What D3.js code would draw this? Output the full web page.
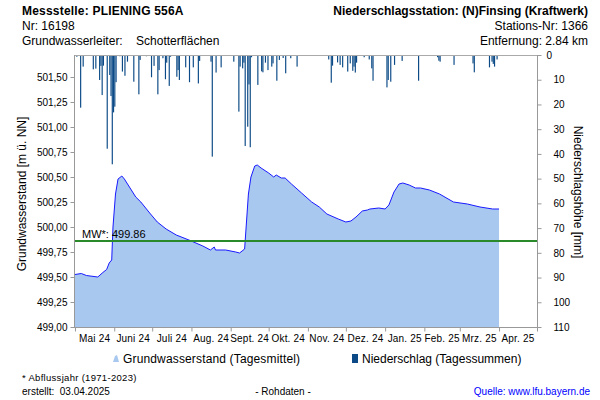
<!DOCTYPE html>
<html><head><meta charset="utf-8">
<script src="https://cdn.jsdelivr.net/npm/d3@7"></script>
<style>body{margin:0;background:#fff}svg{display:block;font-family:"Liberation Sans",Arial,sans-serif}</style>
</head><body><svg id="c" width="600" height="400"></svg>
<script>
const gwDates = ["2024-05-01","2024-05-06","2024-05-10","2024-05-19","2024-05-23","2024-05-26","2024-05-28","2024-05-30","2024-05-31","2024-06-02","2024-06-04","2024-06-07","2024-06-09","2024-06-13","2024-06-18","2024-06-22","2024-06-29","2024-07-05","2024-07-12","2024-07-20","2024-07-30","2024-08-10","2024-08-16","2024-08-19","2024-08-20","2024-08-28","2024-09-05","2024-09-08","2024-09-10","2024-09-12","2024-09-15","2024-09-17","2024-09-20","2024-09-22","2024-09-25","2024-10-01","2024-10-05","2024-10-07","2024-10-11","2024-10-14","2024-10-19","2024-10-27","2024-11-04","2024-11-10","2024-11-16","2024-11-25","2024-12-01","2024-12-05","2024-12-09","2024-12-14","2024-12-18","2024-12-20","2024-12-27","2025-01-01","2025-01-04","2025-01-08","2025-01-12","2025-01-15","2025-01-20","2025-01-25","2025-01-29","2025-02-05","2025-02-13","2025-02-24","2025-03-07","2025-03-17","2025-03-27","2025-04-01"];
const gwValues = [499.525,499.535,499.515,499.50,499.545,499.575,499.64,499.67,500.00,500.33,500.48,500.51,500.48,500.40,500.30,500.25,500.14,500.05,499.98,499.92,499.87,499.81,499.77,499.80,499.77,499.77,499.75,499.74,499.76,499.78,500.33,500.50,500.61,500.62,500.59,500.54,500.50,500.52,500.49,500.49,500.43,500.34,500.25,500.20,500.13,500.08,500.05,500.06,500.10,500.16,500.17,500.18,500.19,500.18,500.22,500.35,500.43,500.44,500.42,500.39,500.39,500.37,500.33,500.25,500.23,500.20,500.18,500.18];

const rainDates = ["2024-05-02","2024-05-05","2024-05-07","2024-05-15","2024-05-17","2024-05-20","2024-05-21","2024-05-22","2024-05-23","2024-05-26","2024-05-28","2024-05-29","2024-05-30","2024-05-31","2024-06-01","2024-06-02","2024-06-05","2024-06-07","2024-06-09","2024-06-11","2024-06-16","2024-06-20","2024-06-21","2024-06-26","2024-06-30","2024-07-02","2024-07-05","2024-07-06","2024-07-09","2024-07-11","2024-07-12","2024-07-14","2024-07-15","2024-07-20","2024-07-21","2024-07-22","2024-07-27","2024-07-30","2024-08-02","2024-08-06","2024-08-07","2024-08-16","2024-08-17","2024-08-20","2024-08-24","2024-09-03","2024-09-07","2024-09-08","2024-09-10","2024-09-11","2024-09-12","2024-09-14","2024-09-15","2024-09-16","2024-09-17","2024-09-22","2024-09-25","2024-09-26","2024-09-28","2024-09-30","2024-10-03","2024-10-04","2024-10-07","2024-10-09","2024-10-12","2024-10-14","2024-10-18","2024-10-23","2024-11-17","2024-11-19","2024-11-20","2024-11-24","2024-11-26","2024-11-28","2024-12-02","2024-12-04","2024-12-06","2024-12-07","2024-12-08","2024-12-09","2024-12-15","2024-12-19","2024-12-21","2024-12-22","2025-01-02","2025-01-03","2025-01-05","2025-01-08","2025-01-14","2025-01-27","2025-02-11","2025-02-12","2025-02-13","2025-02-24","2025-03-11","2025-03-12","2025-03-24","2025-03-26","2025-03-27","2025-03-28","2025-03-30"];
const rainValues = [0.7,21.3,4.7,5.8,5.5,10.1,4.4,16.2,4.3,37.9,8.1,16.6,44.2,23.2,20.9,11.0,0.5,6.7,8.4,2.7,10.8,15.9,2.0,0.5,9.0,4.4,15.9,6.1,1.3,9.8,3.1,12.5,0.7,8.8,6.1,10.1,5.0,11.0,5.0,11.5,2.4,2.7,41.1,7.1,5.0,2.7,22.9,4.7,5.4,3.1,36.8,29.0,11.9,37.3,0.9,12.1,6.6,7.0,3.1,6.1,4.7,3.4,10.4,2.0,1.2,7.4,1.3,4.7,1.8,11.2,4.3,3.0,4.0,5.0,6.7,3.4,6.4,4.7,7.1,3.1,0.9,1.8,5.4,10.4,13.1,10.1,10.8,4.0,2.4,10.4,0.9,2.3,2.7,4.0,3.4,7.0,5.0,2.7,3.6,4.7,1.8];

const gwTicks = [499.00,499.25,499.50,499.75,500.00,500.25,500.50,500.75,501.00,501.25,501.50];
const rainTicks = [0,10,20,30,40,50,60,70,80,90,100,110];
const monthLabels = ["Mai 24","Juni 24","Juli 24","Aug. 24","Sept. 24","Okt. 24","Nov. 24","Dez. 24","Jan. 25","Feb. 25","Mrz. 25","Apr. 25"];
const meanValue = 499.86;

const parse = d3.utcParse("%Y-%m-%d");
const gw = gwDates.map((d,i)=>({date:parse(d), v:gwValues[i]}));
const rain = rainDates.map((d,i)=>({date:parse(d), v:rainValues[i]}));

const svg = d3.select("#c");
svg.append("rect").attr("width",600).attr("height",400).attr("fill","#fff");
const L=74, R=537, T=55, B=327;
const x = d3.scaleUtc().domain([parse("2024-05-01"), parse("2025-05-01")]).range([L+1,R]);
const y = d3.scaleLinear().domain([499, 501.72]).range([B,T]);
const yr = d3.scaleLinear().domain([0,110]).range([T,B]);

// area + line
svg.append("path").datum(gw)
  .attr("d", d3.area().x(d=>x(d.date)).y0(B).y1(d=>y(d.v)))
  .attr("fill","#a8c8f0");
svg.append("path").datum(gw)
  .attr("d", d3.line().x(d=>x(d.date)).y(d=>y(d.v)))
  .attr("fill","none").attr("stroke","#1a1aff").attr("stroke-width",1);

// rain bars
svg.append("g").selectAll("rect").data(rain).join("rect")
  .attr("x", d=>x(d.date))
  .attr("y", yr(0))
  .attr("width", d=>Math.max(1, x(d3.utcDay.offset(d.date,1))-x(d.date)-0.1))
  .attr("height", d=>yr(d.v)-yr(0))
  .attr("fill","#0b4a86");

// frame lines
const axisCol="#999";
svg.append("line").attr("x1",L).attr("x2",R).attr("y1",T+0.5).attr("y2",T+0.5).attr("stroke","#aaa");

// mean line
svg.append("line").attr("x1",L).attr("x2",R).attr("y1",y(meanValue)).attr("y2",y(meanValue))
  .attr("stroke","#2a8a2a").attr("stroke-width",2);
svg.append("text").attr("x",82).attr("y",y(meanValue)-3).attr("font-size",11).attr("fill","#000")
  .text("MW*: " + meanValue.toFixed(2));

// left axis
const fmt = v => d3.format(".2f")(v).replace(".",",");
const gL = svg.append("g").attr("transform",`translate(${L+0.5},0)`)
  .call(d3.axisLeft(y).tickValues(gwTicks).tickFormat(fmt).tickSize(4).tickSizeOuter(0));
gL.select(".domain").attr("stroke",axisCol).attr("d",`M0,${T}V${B+0.5}`);
gL.selectAll(".tick line").attr("stroke",axisCol);
gL.selectAll("text").attr("font-size",10).attr("fill","#000").attr("font-family","Liberation Sans, Arial, sans-serif").attr("x",-7);

// right axis
const gR = svg.append("g").attr("transform",`translate(${R+0.5},0)`)
  .call(d3.axisRight(yr).tickValues(rainTicks).tickFormat(d3.format("d")).tickSize(4).tickSizeOuter(0));
gR.select(".domain").attr("stroke",axisCol).attr("d",`M0,${T}V${B+0.5}`);
gR.selectAll(".tick line").attr("stroke",axisCol);
gR.selectAll("text").attr("font-size",10).attr("fill","#000").attr("font-family","Liberation Sans, Arial, sans-serif")
  .attr("x", d=> d===0 ? 9 : 16);

// bottom axis
const months = d3.utcMonth.range(parse("2024-05-01"), d3.utcDay.offset(parse("2025-05-01"),1));
const gB = svg.append("g").attr("transform",`translate(0,${B+0.5})`)
  .call(d3.axisBottom(x).tickValues(months).tickFormat("").tickSize(4).tickSizeOuter(0));
gB.select(".domain").attr("stroke",axisCol).attr("d",`M${L},0H${R+0.5}`);
gB.selectAll(".tick line").attr("stroke",axisCol);
svg.append("g").selectAll("text").data(months.slice(0,12)).join("text")
  .attr("x",(d,i)=> (x(d)+x(months[i+1]))/2)
  .attr("y",342).attr("text-anchor","middle").attr("font-size",10).attr("letter-spacing",0.2).attr("fill","#000")
  .text((d,i)=>monthLabels[i]);

// axis titles
svg.append("text").attr("transform","translate(26,194) rotate(-90)").attr("text-anchor","middle")
  .attr("font-size",12).text("Grundwasserstand [m ü. NN]");
svg.append("text").attr("transform","translate(574,192) rotate(90)").attr("text-anchor","middle")
  .attr("font-size",12).text("Niederschlagshöhe [mm]");

// header
svg.append("text").attr("x",22).attr("y",15).attr("font-size",12).attr("font-weight","bold").attr("letter-spacing",0.2).text("Messstelle: PLIENING 556A");
svg.append("text").attr("x",22).attr("y",30).attr("font-size",12).text("Nr: 16198");
svg.append("text").attr("x",22).attr("y",45).attr("font-size",12).attr("xml:space","preserve").text("Grundwasserleiter:    Schotterflächen");
svg.append("text").attr("x",588).attr("y",15).attr("font-size",12).attr("font-weight","bold").attr("text-anchor","end").text("Niederschlagsstation: (N)Finsing (Kraftwerk)");
svg.append("text").attr("x",588).attr("y",30).attr("font-size",12).attr("text-anchor","end").text("Stations-Nr: 1366");
svg.append("text").attr("x",588).attr("y",45).attr("font-size",12).attr("text-anchor","end").text("Entfernung: 2.84 km");

// legend
svg.append("path").attr("d","M113,362 L115,356 L117,355 L119,362 Z").attr("fill","#a8c8f0");
svg.append("text").attr("x",123).attr("y",363).attr("font-size",12).attr("letter-spacing",0.15).text("Grundwasserstand (Tagesmittel)");
svg.append("rect").attr("x",352).attr("y",354).attr("width",6).attr("height",9).attr("fill","#0b4a86");
svg.append("text").attr("x",362).attr("y",363).attr("font-size",12).text("Niederschlag (Tagessummen)");

// footer
svg.append("text").attr("x",22).attr("y",381).attr("font-size",9.5).attr("letter-spacing",0.3).text("* Abflussjahr (1971-2023)");
svg.append("text").attr("x",22).attr("y",395).attr("font-size",10).attr("xml:space","preserve").text("erstellt:  03.04.2025");
svg.append("text").attr("x",283).attr("y",395).attr("font-size",10).attr("text-anchor","middle").text("- Rohdaten -");
svg.append("text").attr("x",590).attr("y",395).attr("font-size",10).attr("text-anchor","end").attr("fill","#0000ff").text("Quelle: www.lfu.bayern.de");
</script></body></html>
